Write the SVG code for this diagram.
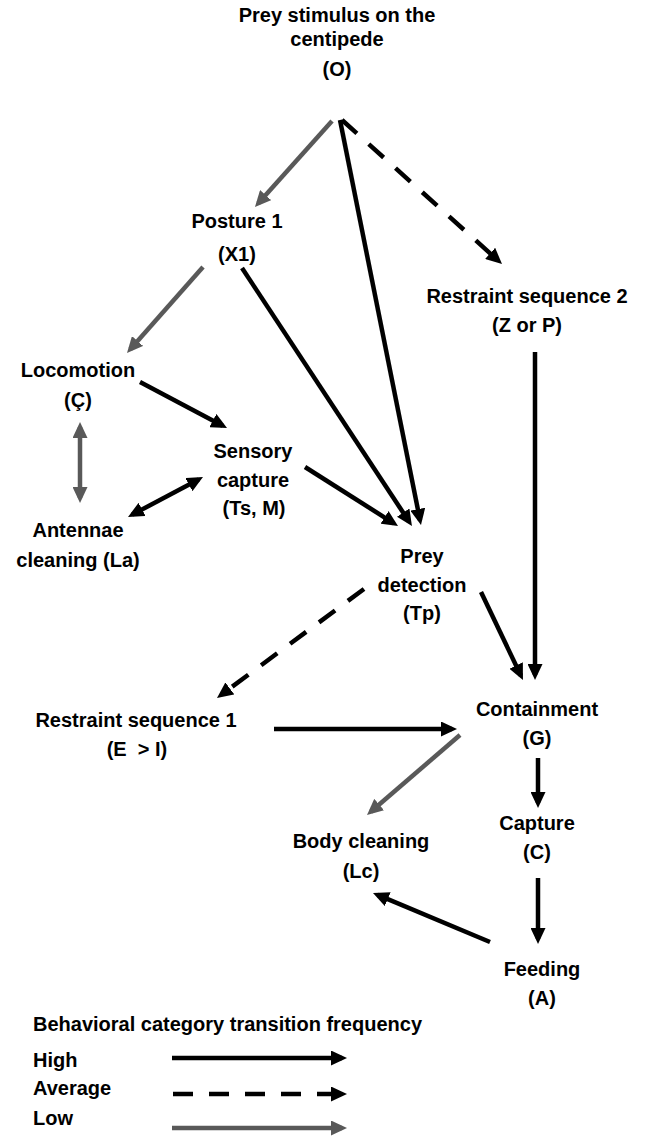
<svg xmlns="http://www.w3.org/2000/svg" width="648" height="1137" viewBox="0 0 648 1137">
<style>
text{font-family:"Liberation Sans",Arial,sans-serif;font-weight:bold;font-size:20px;fill:#000;text-anchor:middle}
.l{text-anchor:start}
.hi{stroke:#000;stroke-width:4.5;fill:none;marker-end:url(#ah)}
.av{stroke:#000;stroke-width:4.5;fill:none;stroke-dasharray:20 16;marker-end:url(#ah)}
.lo{stroke:#595959;stroke-width:4.5;fill:none;marker-end:url(#ag)}
</style>
<defs>
<marker id="ah" markerUnits="userSpaceOnUse" viewBox="0 0 16 15" refX="11" refY="7.5" markerWidth="16" markerHeight="15" orient="auto-start-reverse"><path d="M0,0L16,7.5L0,15z" fill="#000"/></marker>
<marker id="ag" markerUnits="userSpaceOnUse" viewBox="0 0 16 15" refX="11" refY="7.5" markerWidth="16" markerHeight="15" orient="auto-start-reverse"><path d="M0,0L16,7.5L0,15z" fill="#595959"/></marker>
</defs>
<g id="connectors">
<line class="lo" x1="332" y1="121" x2="258.3" y2="203.3"/>
<line class="hi" x1="340" y1="120" x2="420" y2="520"/>
<line class="av" x1="342" y1="120" x2="498.3" y2="260.7"/>
<line class="lo" x1="203" y1="267" x2="130.3" y2="349.3"/>
<line class="hi" x1="242" y1="268" x2="409.2" y2="521.8"/>
<line class="hi" x1="140" y1="382" x2="222.6" y2="425.7"/>
<line class="lo" x1="80" y1="427" x2="80" y2="498" style="marker-start:url(#ag)"/>
<line class="hi" x1="132.4" y1="514.6" x2="198.6" y2="479.4" style="marker-start:url(#ah)"/>
<line class="hi" x1="305" y1="467" x2="393.8" y2="523.3"/>
<line class="hi" x1="535" y1="352" x2="535" y2="675"/>
<line class="hi" x1="481" y1="592" x2="520.8" y2="675.5"/>
<line class="av" x1="364" y1="589" x2="221" y2="695"/>
<line class="hi" x1="274" y1="729" x2="452" y2="729"/>
<line class="lo" x1="460" y1="735" x2="370.8" y2="811.7"/>
<line class="hi" x1="538" y1="758" x2="538" y2="803"/>
<line class="hi" x1="538" y1="878" x2="538" y2="939"/>
<line class="hi" x1="490" y1="942" x2="377.6" y2="894.9"/>
</g>
<g id="node-O"><text x="337" y="22">Prey stimulus on the</text><text x="337" y="46">centipede</text><text x="337" y="76">(O)</text></g>
<g id="node-X1"><text x="237" y="228">Posture 1</text><text x="237" y="261">(X1)</text></g>
<g id="node-R2"><text x="527" y="303">Restraint sequence 2</text><text x="527" y="332">(Z or P)</text></g>
<g id="node-Loco"><text x="78" y="377">Locomotion</text><text x="78" y="407">(Ç)</text></g>
<g id="node-Sensory"><text x="253" y="458">Sensory</text><text x="253" y="487">capture</text><text x="254" y="515">(Ts, M)</text></g>
<g id="node-Antennae"><text x="78" y="537">Antennae</text><text x="78" y="567">cleaning (La)</text></g>
<g id="node-Tp"><text x="422" y="563">Prey</text><text x="422" y="592">detection</text><text x="422" y="620">(Tp)</text></g>
<g id="node-R1"><text x="136" y="727">Restraint sequence 1</text><text x="137" y="756" style="white-space:pre" xml:space="preserve">(E  &gt; I)</text></g>
<g id="node-G"><text x="537" y="716">Containment</text><text x="537" y="745">(G)</text></g>
<g id="node-C"><text x="537" y="830">Capture</text><text x="537" y="859">(C)</text></g>
<g id="node-Lc"><text x="361" y="848">Body cleaning</text><text x="361" y="878">(Lc)</text></g>
<g id="node-A"><text x="542" y="976">Feeding</text><text x="542" y="1005">(A)</text></g>
<g id="legend">
<text class="l" x="33" y="1031">Behavioral category transition frequency</text>
<text class="l" x="33" y="1067">High</text>
<text class="l" x="33" y="1095">Average</text>
<text class="l" x="33" y="1125">Low</text>
<line class="hi" x1="172" y1="1058" x2="342" y2="1058"/>
<line class="av" x1="173" y1="1094" x2="342" y2="1094"/>
<line class="lo" x1="172" y1="1128" x2="342" y2="1128"/>
</g>
</svg>
